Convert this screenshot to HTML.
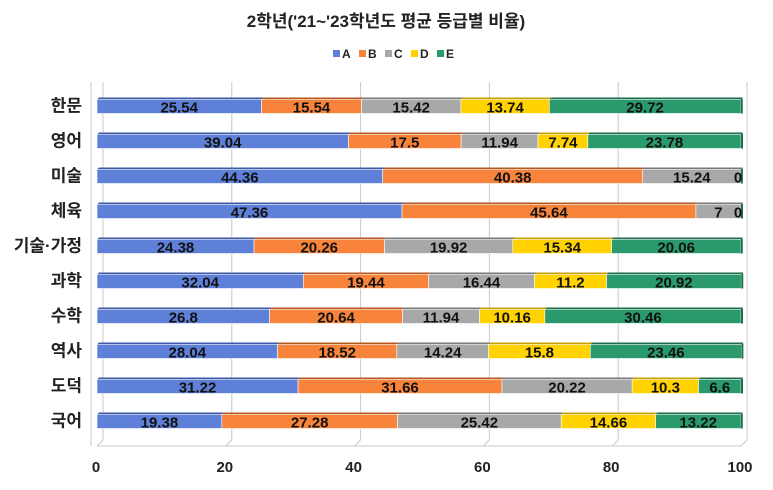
<!DOCTYPE html>
<html><head><meta charset="utf-8"><style>
body{margin:0;background:#fff;}
svg{font-family:"Liberation Sans","Noto Sans CJK KR",sans-serif;}
</style></head><body>
<svg id="chart" width="773" height="485" viewBox="0 0 773 485">
<text x="386" y="27" text-anchor="middle" font-size="17" font-weight="bold" fill="#222">2학년('21~'23학년도 평균 등급별 비율)</text>
<g id="legend"></g>
<g id="grid"></g>
<g id="bars"></g>
<g id="axes"></g>
</svg>
<script>
const categories=["한문","영어","미술","체육","기술·가정","과학","수학","역사","도덕","국어"];
const seriesNames=["A","B","C","D","E"];
const seriesA=[25.54,39.04,44.36,47.36,24.38,32.04,26.8,28.04,31.22,19.38];
const seriesB=[15.54,17.5,40.38,45.64,20.26,19.44,20.64,18.52,31.66,27.28];
const seriesC=[15.42,11.94,15.24,7,19.92,16.44,11.94,14.24,20.22,25.42];
const seriesD=[13.74,7.74,0,0,15.34,11.2,10.16,15.8,10.3,14.66];
const seriesE=[29.72,23.78,0,0,20.06,20.92,30.46,23.46,6.6,13.22];
const xTicks=[0,20,40,60,80,100];
const colors=["#5E80D8","#F7843A","#A8A8A8","#FFD200","#2A9A6C"];
const tops=["#3E5AA8","#B85A20","#7A7A7A","#C9A200","#1C6E4C"];
const NS="http://www.w3.org/2000/svg";
const x0=97,x1=741,yTop=88,rowH=35,barH=16;
const xs=v=>x0+(x1-x0)*v/100;
const yc=i=>yTop+rowH*i+rowH/2;
function mk(tag,attrs,parent){const e=document.createElementNS(NS,tag);for(const k in attrs)e.setAttribute(k,attrs[k]);parent.appendChild(e);return e;}
const grid=document.getElementById('grid'),bars=document.getElementById('bars'),axes=document.getElementById('axes'),legend=document.getElementById('legend');
xTicks.forEach(t=>{
  const g=mk('line',{x1:xs(t)+6,x2:xs(t)+6,y1:82,y2:440,stroke:'#c8c8c8','stroke-width':1},grid);
  
  
  const s=mk('line',{x1:xs(t),x2:xs(t)+6,y1:446,y2:440,stroke:'#c8c8c8'},grid);
  
  
  const lb=mk('text',{x:xs(t)-1,y:472,'text-anchor':'middle','font-size':15,'font-weight':'bold',fill:'#222'},axes);
  lb.textContent=t;
  
  
});
mk('line',{x1:x0,x2:x1,y1:446,y2:446,stroke:'#c8c8c8'},grid);
mk('line',{x1:91,x2:91,y1:82,y2:446,stroke:'#c8c8c8'},grid);
const all=[seriesA,seriesB,seriesC,seriesD,seriesE];
categories.forEach((c,i)=>{
  const y=yc(i);
  const lb=mk('text',{x:82,y:y+6,'text-anchor':'end','font-size':17,'font-weight':'bold',fill:'#222'},axes);
  lb.textContent=c;
  
  
  let acc=0;
  all.forEach((ser,k)=>{
    const v=ser[i];const xa=xs(acc),xb=xs(acc+v);
    const top=mk('polygon',{points:`${xa},${y-barH/2+2} ${xa+2},${y-barH/2} ${xb+2},${y-barH/2} ${xb},${y-barH/2+2}`,fill:tops[k]},bars);
    
    
    const r=mk('rect',{x:xa,y:y-barH/2+2,width:Math.max(0,xb-xa),height:barH-2,fill:colors[k],stroke:'#fff','stroke-width':0.6},bars);
    
    
    acc+=v;
  });
  mk('rect',{x:xs(acc),y:y-barH/2+1,width:2,height:barH-1,fill:tops[4]},bars);
  acc=0;
  all.forEach((ser,k)=>{
    const v=ser[i];
    if(v>0||(i===2||i===3)&&k===3){
      const tx=v>0?xs(acc+v/2):xs(100)-3;
      if(v===0&&k!==3){acc+=v;return;}
      const t=mk('text',{x:tx,y:y+7,'text-anchor':'middle','font-size':15,'font-weight':'bold',fill:'#111'},bars);
      t.textContent=v;
      
      
    }
    acc+=v;
  });
});
seriesNames.forEach((n,k)=>{
  const lx=333+k*26;
  const r=mk('rect',{x:lx,y:50,width:7,height:7,fill:colors[k]},legend);
  
  
  const t=mk('text',{x:lx+9,y:58,'font-size':12,'font-weight':'bold',fill:'#222'},legend);
  t.textContent=n;
  
  
});
</script>
</body></html>
